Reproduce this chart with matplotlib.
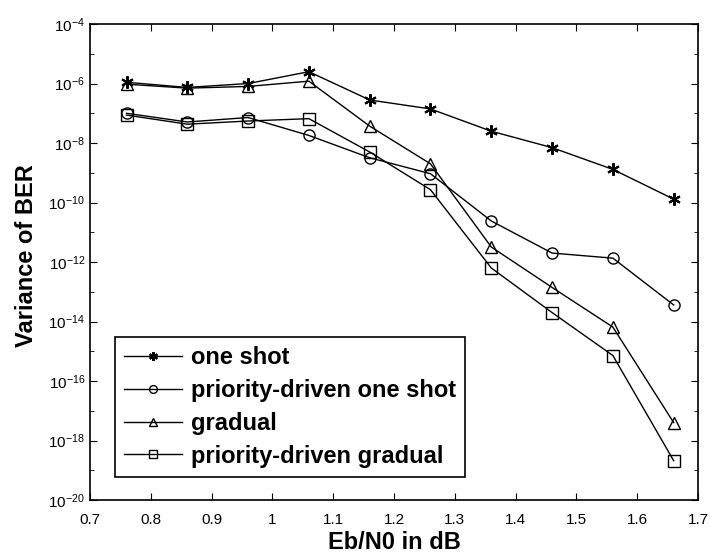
import matplotlib
matplotlib.use("Agg")
import matplotlib.pyplot as plt
from matplotlib.ticker import NullFormatter, FixedLocator

# Data
ebn0 = [0.76, 0.86, 0.96, 1.06, 1.16, 1.26, 1.36, 1.46, 1.56, 1.66]
one_shot = [1.1e-6, 7.4e-7, 1.0e-6, 2.5e-6, 2.8e-7, 1.4e-7, 2.5e-8, 7e-9, 1.3e-9, 1.3e-10]
prio_one_shot = [1.0e-7, 5.1e-8, 7.2e-8, 1.8e-8, 3.2e-9, 9.3e-10, 2.4e-11, 2.0e-12, 1.35e-12, 3.6e-14]
gradual = [9.5e-7, 7.0e-7, 8.0e-7, 1.2e-6, 3.7e-8, 2.0e-9, 3.2e-12, 1.4e-13, 6.5e-15, 4e-18]
prio_gradual = [8.7e-8, 4.3e-8, 5.5e-8, 6.6e-8, 5e-9, 2.7e-10, 6.3e-13, 2e-14, 7.2e-16, 2.1e-19]
labels = ["one shot", "priority-driven one shot", "gradual", "priority-driven gradual"]
xticks = [0.7, 0.8, 0.9, 1.0, 1.1, 1.2, 1.3, 1.4, 1.5, 1.6, 1.7]
xticklabels = ['0.7', '0.8', '0.9', '1', '1.1', '1.2', '1.3', '1.4', '1.5', '1.6', '1.7']

plt.rcParams['font.family'] = ['Liberation Sans', 'DejaVu Sans']

fig = plt.figure(figsize=(7.1, 5.59), dpi=100)
ax = fig.add_axes([0.1268, 0.1055, 0.8563, 0.8515])

style = dict(color='black', linewidth=1.0, markerfacecolor='none', markeredgecolor='black')
ax.plot(ebn0, one_shot, marker=(6, 2, 0), markersize=9, markeredgewidth=1.5,
        label=labels[0], **style)
ax.plot(ebn0, prio_one_shot, marker='o', markersize=8, label=labels[1], **style)
ax.plot(ebn0, gradual, marker='^', markersize=8, label=labels[2], **style)
ax.plot(ebn0, prio_gradual, marker='s', markersize=8, label=labels[3], **style)

ax.set_yscale('log')
ax.set_xlim(0.7, 1.7)
ax.set_ylim(1e-20, 1e-4)
ax.set_xticks(xticks)
ax.set_xticklabels(xticklabels)
ax.yaxis.set_major_locator(FixedLocator([10.0**e for e in range(-20, -3, 2)]))
ax.yaxis.set_minor_locator(FixedLocator([10.0**e for e in range(-19, -4, 2)]))
ax.yaxis.set_minor_formatter(NullFormatter())

ax.tick_params(which='both', direction='in', top=True, right=True, labelsize=11)
ax.tick_params(axis='x', pad=9)
ax.tick_params(which='major', length=5)
ax.tick_params(which='minor', length=3)

ax.set_xlabel('Eb/N0 in dB', fontsize=17, fontweight='bold', labelpad=3)
ax.set_ylabel('Variance of BER', fontsize=17, fontweight='bold')
ax.yaxis.set_label_coords(-0.085, 0.513)

leg = ax.legend(loc='lower left', bbox_to_anchor=(0.041, 0.048),
                prop={'weight': 'bold', 'size': 17}, handlelength=2.45,
                markerscale=0.7, fancybox=False, edgecolor='black', framealpha=1,
                borderaxespad=0, labelspacing=0.42, handletextpad=0.35,
                borderpad=0.4)
leg.get_frame().set_linewidth(1.2)

for s in ax.spines.values():
    s.set_linewidth(1.2)

fig.savefig('out.png', dpi=100)
